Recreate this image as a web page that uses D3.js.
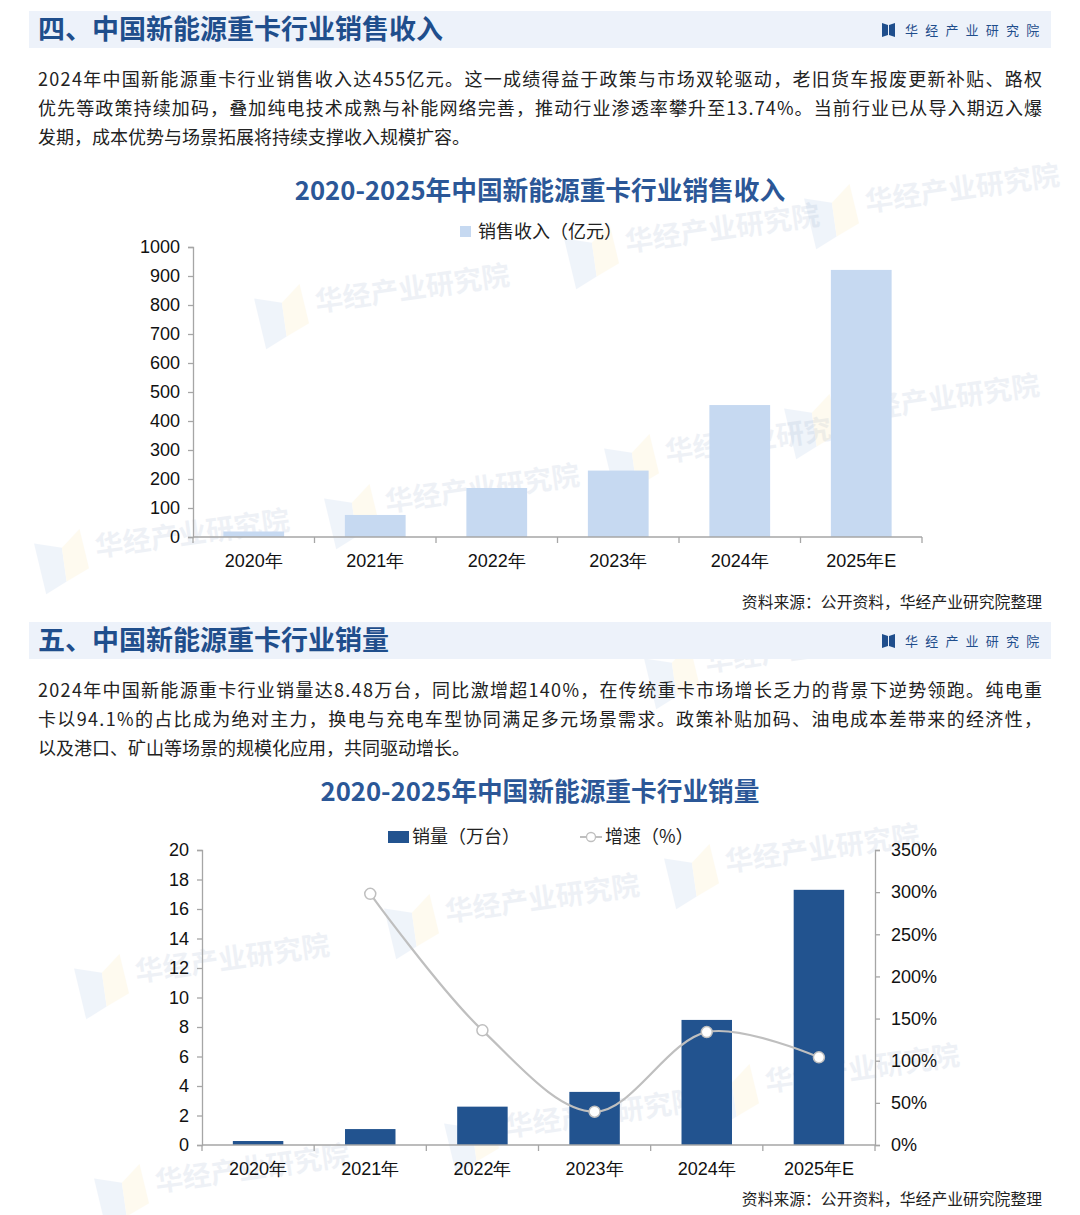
<!doctype html>
<html>
<head>
<meta charset="utf-8">
<script src="https://cdnjs.cloudflare.com/ajax/libs/d3/7.8.5/d3.min.js"></script>
<style>
  body { margin: 0; background: #fff; }
  svg { display: block; }
  .cn { font-family: "Noto Sans CJK SC", "Noto Sans", sans-serif; }
  .num { font-family: "Liberation Sans", Arial, sans-serif; }
</style>
</head>
<body>
<svg id="page" width="1080" height="1215"></svg>
<script>
// ---- data ----
var years = ["2020年", "2021年", "2022年", "2023年", "2024年", "2025年E"];
var revenue = [19, 76, 169, 229, 455, 921];           // 亿元
var revTicks = [0, 100, 200, 300, 400, 500, 600, 700, 800, 900, 1000];
var sales = [0.27, 1.08, 2.6, 3.6, 8.48, 17.3];        // 万台
var salesTicks = [0, 2, 4, 6, 8, 10, 12, 14, 16, 18, 20];
var growth = [null, 298, 136, 39.5, 134, 104];         // %
var growthTicks = [0, 50, 100, 150, 200, 250, 300, 350];

var para1 = [
  "2024年中国新能源重卡行业销售收入达455亿元。这一成绩得益于政策与市场双轮驱动，老旧货车报废更新补贴、路权",
  "优先等政策持续加码，叠加纯电技术成熟与补能网络完善，推动行业渗透率攀升至13.74%。当前行业已从导入期迈入爆",
  "发期，成本优势与场景拓展将持续支撑收入规模扩容。"
];
var para2 = [
  "2024年中国新能源重卡行业销量达8.48万台，同比激增超140%，在传统重卡市场增长乏力的背景下逆势领跑。纯电重",
  "卡以94.1%的占比成为绝对主力，换电与充电车型协同满足多元场景需求。政策补贴加码、油电成本差带来的经济性，",
  "以及港口、矿山等场景的规模化应用，共同驱动增长。"
];

var svg = d3.select("#page");
var titleBlue = "#1f4e8c";
var axisGray = "#a6a6a6";

// faint watermarks
var marks = [[330, 300], [640, 240], [880, 200], [400, 500], [680, 450], [860, 410],
             [110, 545], [720, 660], [460, 910], [740, 860], [150, 970], [520, 1125], [170, 1180], [780, 1080]];
marks.forEach(function (m) {
  var g = svg.append("g").attr("transform", "translate(" + m[0] + "," + m[1] + ") rotate(-8)").attr("opacity", 0.07);
  g.append("path").attr("d", "M-75,-12 L-48,-4 L-48,30 L-70,40 Z").attr("fill", "#2f6fc0");
  g.append("path").attr("d", "M-48,-4 L-28,-20 L-24,20 L-48,30 Z").attr("fill", "#f2c230");
  g.append("text").attr("class", "cn").attr("x", -15).attr("y", 10)
    .attr("font-size", 28).attr("font-weight", "bold").attr("fill", "#1f4e8c").text("华经产业研究院");
});

function header(y, label) {
  svg.append("rect").attr("x", 29).attr("y", y).attr("width", 1022).attr("height", 37).attr("fill", "#edf2fa");
  svg.append("text").attr("class", "cn").attr("x", 38).attr("y", y + 28)
    .attr("font-size", 27).attr("font-weight", "bold").attr("fill", titleBlue).text(label);
  // logo
  var lx = 882, ly = y + 12;
  svg.append("path").attr("d", "M" + lx + "," + ly + " l6,2 l0,10 l-6,2 Z").attr("fill", titleBlue);
  svg.append("path").attr("d", "M" + (lx + 7) + "," + (ly + 2) + " l6,-2 l0,14 l-6,-2 Z").attr("fill", titleBlue);
  svg.append("text").attr("class", "cn").attr("x", 905).attr("y", y + 24)
    .attr("font-size", 13).attr("letter-spacing", 7.2).attr("fill", titleBlue).text("华经产业研究院");
}

function paragraph(lines, y0) {
  lines.forEach(function (t, i) {
    var tx = svg.append("text").attr("class", "cn").attr("x", 38).attr("y", y0 + i * 29)
      .attr("font-size", 18).attr("fill", "#222").text(t);
    if (i < lines.length - 1) tx.attr("textLength", 1004).attr("lengthAdjust", "spacing");
  });
}

function source(y) {
  svg.append("text").attr("class", "cn").attr("x", 1042).attr("y", y).attr("text-anchor", "end")
    .attr("font-size", 15.8).attr("fill", "#222").text("资料来源：公开资料，华经产业研究院整理");
}

function chartTitle(y, t) {
  svg.append("text").attr("class", "cn").attr("x", 540).attr("y", y).attr("text-anchor", "middle")
    .attr("font-size", 25.7).attr("font-weight", "bold").attr("fill", "#2b5797").text(t);
}

function xAxisBand(x, yBase) {
  var g = svg.append("g");
  var r = x.range();
  g.append("line").attr("x1", r[0]).attr("x2", r[1]).attr("y1", yBase).attr("y2", yBase)
    .attr("stroke", axisGray).attr("stroke-width", 1.3);
  d3.range(years.length + 1).forEach(function (i) {
    var px = r[0] + i * x.step();
    g.append("line").attr("x1", px).attr("x2", px).attr("y1", yBase).attr("y2", yBase + 6)
      .attr("stroke", axisGray).attr("stroke-width", 1.3);
  });
  g.selectAll("text.xl").data(years).enter().append("text").attr("class", "xl num")
    .attr("x", function (d) { return x(d) + x.bandwidth() / 2; })
    .attr("y", yBase + 30).attr("text-anchor", "middle").attr("font-size", 18).attr("fill", "#111")
    .text(function (d) { return d; });
}

function styleAxis(g) {
  g.selectAll("path,line").attr("stroke", axisGray).attr("stroke-width", 1.3);
  g.selectAll("text").attr("class", "num").attr("font-size", 18).attr("fill", "#111").attr("font-family", null);
}

// ===== section 1 =====
header(11, "四、中国新能源重卡行业销售收入");
paragraph(para1, 86);
chartTitle(200, "2020-2025年中国新能源重卡行业销售收入");

var x1 = d3.scaleBand().domain(years).range([193, 922]).paddingInner(0.5).paddingOuter(0.25);
var y1 = d3.scaleLinear().domain([0, 1000]).range([537, 247]);

svg.append("g").attr("transform", "translate(193,0)")
  .call(d3.axisLeft(y1).tickValues(revTicks).tickFormat(d3.format("d")).tickSize(5).tickPadding(8))
  .call(styleAxis);

svg.append("g").selectAll("rect").data(revenue).enter().append("rect")
  .attr("x", function (d, i) { return x1(years[i]); })
  .attr("y", function (d) { return y1(d); })
  .attr("width", x1.bandwidth())
  .attr("height", function (d) { return y1(0) - y1(d); })
  .attr("fill", "#c6d9f1");
xAxisBand(x1, 537);

svg.append("rect").attr("x", 460).attr("y", 226).attr("width", 11).attr("height", 11).attr("fill", "#c6d9f1");
svg.append("text").attr("class", "cn").attr("x", 478).attr("y", 238).attr("font-size", 18).attr("fill", "#222")
  .text("销售收入（亿元）");

source(608);

// ===== section 2 =====
header(622, "五、中国新能源重卡行业销量");
paragraph(para2, 697);
chartTitle(801, "2020-2025年中国新能源重卡行业销量");

var x2 = d3.scaleBand().domain(years).range([202, 875]).paddingInner(0.55).paddingOuter(0.275);
var y2 = d3.scaleLinear().domain([0, 20]).range([1145, 850]);
var y2r = d3.scaleLinear().domain([0, 350]).range([1145, 850]);

svg.append("g").attr("transform", "translate(202,0)")
  .call(d3.axisLeft(y2).tickValues(salesTicks).tickSize(5).tickPadding(8))
  .call(styleAxis);
svg.append("g").attr("transform", "translate(875,0)")
  .call(d3.axisRight(y2r).tickValues(growthTicks).tickSize(5).tickPadding(11)
    .tickFormat(function (d) { return d + "%"; }))
  .call(styleAxis);

svg.append("g").selectAll("rect").data(sales).enter().append("rect")
  .attr("x", function (d, i) { return x2(years[i]); })
  .attr("y", function (d) { return y2(d); })
  .attr("width", x2.bandwidth())
  .attr("height", function (d) { return y2(0) - y2(d); })
  .attr("fill", "#22538f");
xAxisBand(x2, 1145);

var pts = growth.map(function (g, i) { return { g: g, yr: years[i] }; }).filter(function (d) { return d.g !== null; });
var line = d3.line()
  .x(function (d) { return x2(d.yr) + x2.bandwidth() / 2; })
  .y(function (d) { return y2r(d.g); })
  .curve(d3.curveCatmullRom.alpha(0.5));
svg.append("path").datum(pts).attr("d", line).attr("fill", "none").attr("stroke", "#bfbfbf").attr("stroke-width", 2.2);
svg.append("g").selectAll("circle").data(pts).enter().append("circle")
  .attr("cx", function (d) { return x2(d.yr) + x2.bandwidth() / 2; })
  .attr("cy", function (d) { return y2r(d.g); })
  .attr("r", 5.5).attr("fill", "#fff").attr("stroke", "#bfbfbf").attr("stroke-width", 1.5);

// legend 2
svg.append("rect").attr("x", 388).attr("y", 831).attr("width", 21).attr("height", 12).attr("fill", "#22538f");
svg.append("text").attr("class", "cn").attr("x", 412).attr("y", 843).attr("font-size", 18).attr("fill", "#222")
  .text("销量（万台）");
svg.append("line").attr("x1", 580).attr("x2", 602).attr("y1", 837).attr("y2", 837).attr("stroke", "#bfbfbf").attr("stroke-width", 2);
svg.append("circle").attr("cx", 591).attr("cy", 837).attr("r", 4.5).attr("fill", "#fff").attr("stroke", "#bfbfbf").attr("stroke-width", 1.3);
svg.append("text").attr("class", "cn").attr("x", 605).attr("y", 843).attr("font-size", 18).attr("fill", "#222")
  .text("增速（%）");

source(1205);
</script>
</body>
</html>
